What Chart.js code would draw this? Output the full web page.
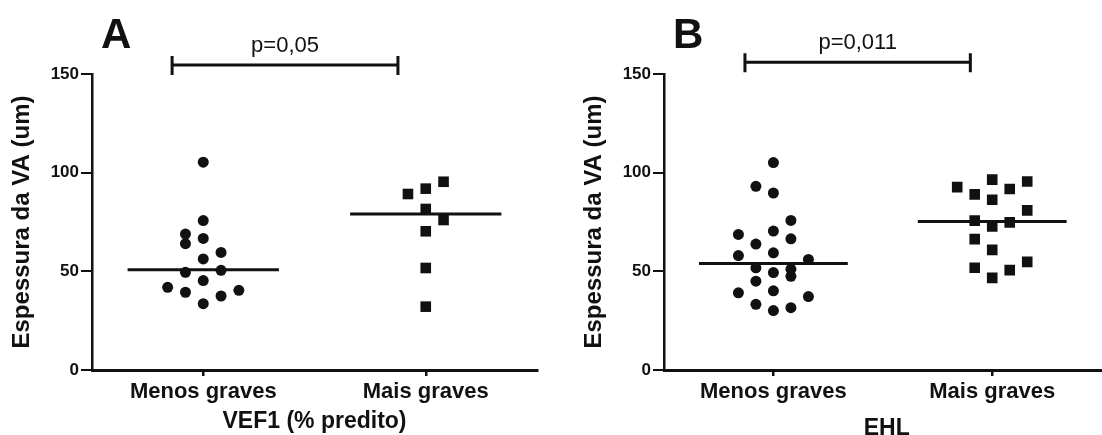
<!DOCTYPE html>
<html>
<head>
<meta charset="utf-8">
<script src="https://cdn.jsdelivr.net/npm/chart.js@4"></script>
<style>
body { margin: 0; background: #fff; width: 1102px; height: 435px; overflow: hidden; position: relative; }
canvas { position: absolute; top: 0; }
</style>
</head>
<body>
<canvas id="chartA" width="572" height="435" style="left:0"></canvas>
<canvas id="chartB" width="545" height="435" style="left:572px"></canvas>
<script>
const categories = ['Menos graves', 'Mais graves']
const yTicks = [0, 50, 100, 150]

// A - VEF1 (% predito)
const aMenosY = [105.3, 75.7, 68.9, 66.7, 64.0, 59.6, 56.3, 49.5, 50.5, 45.3, 41.9, 39.4, 40.4, 37.5, 33.6]
const aMenosX = [0, 0, -0.08, 0, -0.08, 0.08, 0, -0.08, 0.08, 0, -0.16, -0.08, 0.16, 0.08, 0]
const aMaisY = [89.2, 91.9, 95.4, 81.6, 76.0, 70.3, 51.7, 32.1]
const aMaisX = [0.92, 1, 1.08, 1, 1.08, 1, 1, 1]
const aMedians = [50.8, 79.1]

// B - EHL
const bMenosY = [105.1, 93.1, 89.7, 75.8, 68.7, 70.4, 66.5, 63.8, 58.0, 59.4, 56.0, 51.8, 49.4, 51.1, 47.5, 45.0, 39.1, 40.1, 37.2, 33.3, 31.6, 30.1]
const bMenosX = [0, -0.08, 0, 0.08, -0.16, 0, 0.08, -0.08, -0.16, 0, 0.16, -0.08, 0, 0.08, 0.08, -0.08, -0.16, 0, 0.16, -0.08, 0.08, 0]
const bMaisY = [92.7, 96.5, 95.5, 89.0, 91.7, 86.3, 80.9, 75.7, 72.8, 74.8, 66.3, 60.9, 51.8, 50.6, 54.8, 46.7]
const bMaisX = [0.84, 1, 1.16, 0.92, 1.08, 1, 1.16, 0.92, 1, 1.08, 0.92, 1, 0.92, 1.08, 1.16, 1]
const bMedians = [54.0, 75.3]

const FONT = '"Liberation Sans", Arial, Helvetica, sans-serif'
const INK = '#111'

const pts = (xs, ys) => ys.map((v, i) => ({ x: xs[i], y: v }))
const medianLine = (i, m) => ({
    type: 'line',
    data: [{ x: i - 0.34, y: m }, { x: i + 0.34, y: m }],
    borderColor: INK,
    borderWidth: 3,
    pointRadius: 0,
    showLine: true
})

// panel letter, bracket and p value
const decor = {
    id: 'decor',
    afterDraw(chart, args, o) {
        const { ctx, scales: { x, y } } = chart
        ctx.save()
        ctx.fillStyle = INK
        ctx.strokeStyle = INK
        ctx.font = 'bold 42px ' + FONT
        ctx.textAlign = 'left'
        ctx.textBaseline = 'alphabetic'
        ctx.fillText(o.letter, 101, 48)

        const x0 = x.getPixelForValue(o.from)
        const x1 = x.getPixelForValue(o.to)
        const yb = y.getPixelForValue(o.level)
        ctx.lineWidth = 3
        ctx.beginPath()
        ctx.moveTo(x0, yb); ctx.lineTo(x1, yb)
        ctx.moveTo(x0, yb - 9); ctx.lineTo(x0, yb + 10)
        ctx.moveTo(x1, yb - 9); ctx.lineTo(x1, yb + 10)
        ctx.stroke()

        ctx.font = '22px ' + FONT
        ctx.textAlign = 'center'
        ctx.fillText(o.p, (x0 + x1) / 2, yb - 13)
        ctx.restore()
    }
}

function makeChart(id, cfg) {
    return new Chart(document.getElementById(id), {
        type: 'scatter',
        data: {
            datasets: [
                { data: pts(cfg.menosX, cfg.menosY), pointStyle: 'circle', pointRadius: 5.5, backgroundColor: INK, borderWidth: 0 },
                { data: pts(cfg.maisX, cfg.maisY), pointStyle: 'rect', pointRadius: 7.5, backgroundColor: INK, borderWidth: 0 },
                medianLine(0, cfg.medians[0]),
                medianLine(1, cfg.medians[1])
            ]
        },
        options: {
            responsive: false,
            animation: false,
            devicePixelRatio: 1,
            layout: { padding: { top: 74, right: cfg.padRight, left: 0, bottom: 0 } },
            plugins: {
                legend: { display: false },
                tooltip: { enabled: false },
                decor: cfg.decor
            },
            scales: {
                x: {
                    type: 'linear',
                    min: -0.5,
                    max: cfg.xMax,
                    afterBuildTicks: (s) => { s.ticks = categories.map((c, i) => ({ value: i })) },
                    afterFit: (s) => { s.height = 65 },
                    ticks: {
                        callback: (v) => categories[v],
                        color: INK,
                        padding: 3,
                        font: { family: FONT, size: 22, weight: 'bold' }
                    },
                    grid: { drawOnChartArea: false, drawTicks: true, tickLength: 6, color: INK, lineWidth: 2.5 },
                    border: { display: true, color: INK, width: 3 },
                    title: {
                        display: true,
                        text: cfg.xTitle,
                        color: INK,
                        padding: { top: 0, bottom: cfg.xTitlePad },
                        font: { family: FONT, size: 23, weight: 'bold' }
                    }
                },
                y: {
                    min: 0,
                    max: 150,
                    afterBuildTicks: (s) => { s.ticks = yTicks.map(v => ({ value: v })) },
                    afterFit: (s) => { s.width = 92 },
                    ticks: {
                        color: INK,
                        padding: 2,
                        font: { family: FONT, size: 17, weight: 'bold' }
                    },
                    grid: { drawOnChartArea: false, drawTicks: true, tickLength: 11, color: INK, lineWidth: 2 },
                    border: { display: true, color: INK, width: 2.5 },
                    title: {
                        display: true,
                        text: 'Espessura da VA (um)',
                        color: INK,
                        padding: { top: 8, bottom: 0 },
                        font: { family: FONT, size: 24, weight: 'bold' }
                    }
                }
            }
        },
        plugins: [decor]
    })
}

makeChart('chartA', {
    menosX: aMenosX, menosY: aMenosY, maisX: aMaisX, maisY: aMaisY, medians: aMedians,
    xMax: 1.5, padRight: 35, xTitle: 'VEF1 (% predito)', xTitlePad: 0,
    decor: { letter: 'A', p: 'p=0,05', from: -0.14, to: 0.875, level: 154.5 }
})

makeChart('chartB', {
    menosX: bMenosX, menosY: bMenosY, maisX: bMaisX, maisY: bMaisY, medians: bMedians,
    xMax: 1.536, padRight: 0, xTitle: 'EHL', xTitlePad: -7,
    decor: { letter: 'B', p: 'p=0,011', from: -0.13, to: 0.9, level: 156 }
})
</script>
</body>
</html>
